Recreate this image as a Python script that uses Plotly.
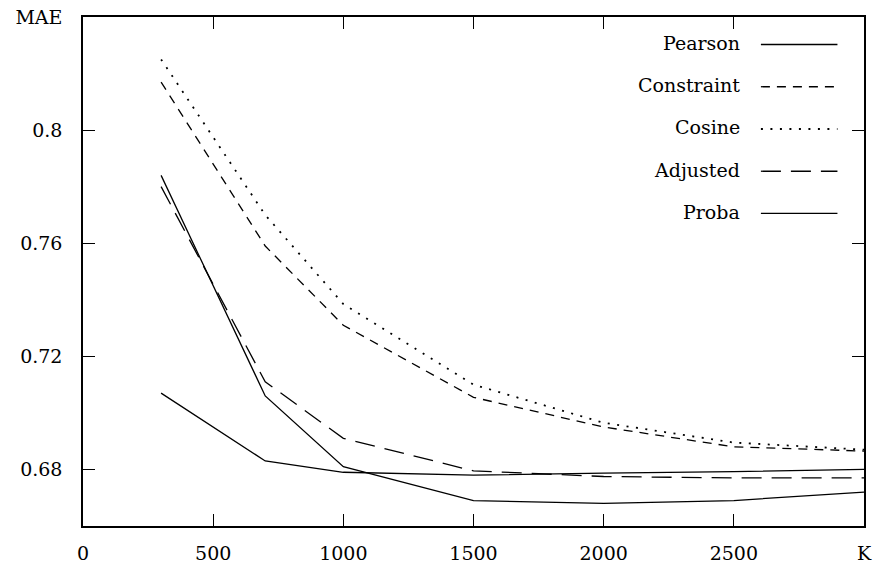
import plotly.graph_objects as go

K = [300, 700, 1000, 1500, 2000, 2500, 3000]
pearson = [0.784, 0.706, 0.681, 0.669, 0.668, 0.669, 0.672]
constraint = [0.817, 0.759, 0.731, 0.7055, 0.695, 0.688, 0.6865]
cosine = [0.825, 0.770, 0.7385, 0.710, 0.6965, 0.6895, 0.687]
adjusted = [0.780, 0.711, 0.691, 0.6795, 0.6775, 0.677, 0.677]
proba = [0.707, 0.683, 0.679, 0.678, 0.6787, 0.6792, 0.680]

names = ["Pearson", "Constraint", "Cosine", "Adjusted", "Proba"]
series = [pearson, constraint, cosine, adjusted, proba]
dashes = ["solid", "9px,7px", "2px,7.5px", "20px,10px", "solid"]
widths = [1.3, 1.3, 1.8, 1.3, 1.3]

x_tickvals = [0, 500, 1000, 1500, 2000, 2500, 3000]
x_ticktext = ["0", "500", "1000", "1500", "2000", "2500", "K"]
y_tickvals = [0.68, 0.72, 0.76, 0.80, 0.84]
y_ticktext = ["0.68", "0.72", "0.76", "0.8", "MAE"]

FONT = "DejaVu Serif"
fig = go.Figure()
for n, s, d, w in zip(names, series, dashes, widths):
    fig.add_trace(go.Scatter(x=K, y=s, mode="lines", name=n,
                             line=dict(color="black", width=w, dash=d),
                             showlegend=False))

# gnuplot-style key: text right-aligned, sample line to its right
leg_y0 = 0.949
leg_dy = 0.083
for i, (n, d, w) in enumerate(zip(names, dashes, widths)):
    yy = leg_y0 - i * leg_dy
    fig.add_annotation(x=0.844, y=yy, xref="paper", yref="paper", text=n,
                       showarrow=False, xanchor="right", yanchor="middle",
                       font=dict(family=FONT, size=19, color="black"))
    fig.add_shape(type="line", xref="paper", yref="paper",
                  x0=0.868, x1=0.966, y0=yy - 0.003, y1=yy - 0.003,
                  line=dict(color="black", width=w, dash=d))

axis_common = dict(showline=True, linecolor="black", linewidth=1.5, mirror="allticks",
                   ticks="inside", ticklen=12, tickwidth=1.2, tickcolor="black",
                   showgrid=False, zeroline=False, automargin=False,
                   tickfont=dict(family=FONT, size=19, color="black"))
fig.update_xaxes(range=[0, 3000], tickvals=x_tickvals, ticktext=x_ticktext,
                 ticklabelstandoff=9, **axis_common)
fig.update_yaxes(range=[0.66, 0.84], tickvals=y_tickvals, ticktext=y_ticktext,
                 ticklabelstandoff=15, **axis_common)
fig.update_layout(width=884, height=569, margin=dict(l=83, r=20, t=17, b=43),
                  plot_bgcolor="white", paper_bgcolor="white",
                  font=dict(family=FONT, color="black"))
fig.write_html("out.html")
